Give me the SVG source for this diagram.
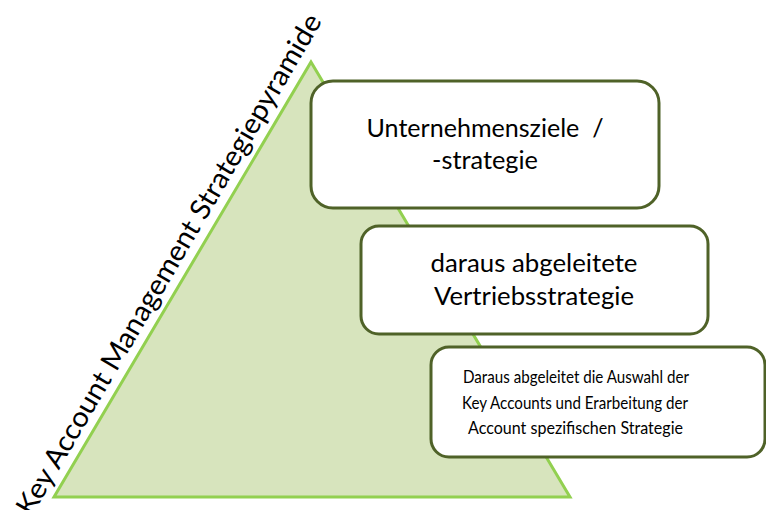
<svg xmlns="http://www.w3.org/2000/svg" width="766" height="510" viewBox="0 0 766 510">
  <style>
    .pyr { fill: #D7E4BD; stroke: #92D050; stroke-width: 3; stroke-linejoin: miter; }
    .box { fill: #FFFFFF; stroke: #4F6228; stroke-width: 3; }
    .big { font-family: Lato, "Open Sans", "Liberation Sans", sans-serif; font-size: 25px; fill: #000000; text-anchor: middle; white-space: pre; }
    .small { font-family: Lato, "Open Sans", "Liberation Sans", sans-serif; font-size: 17.5px; fill: #000000; text-anchor: middle; }
    .title { font-family: Lato, "Open Sans", "Liberation Sans", sans-serif; font-size: 28px; fill: #000000; text-anchor: middle; }
  </style>

  <!-- pyramid with its title along the left flank -->
  <g id="pyramid">
    <polygon class="pyr" points="311,62 570,497 54,497"/>
    <text class="title" transform="translate(177,269) rotate(-59.6)" x="0" y="0" textLength="575" lengthAdjust="spacingAndGlyphs">Key Account Management Strategiepyramide</text>
  </g>

  <!-- level 1 -->
  <g id="unternehmensziele">
    <rect class="box" x="311" y="81" width="348" height="127" rx="22" ry="22"/>
    <text class="big" x="485" y="137" textLength="237" lengthAdjust="spacingAndGlyphs">Unternehmensziele  /</text>
    <text class="big" x="485" y="169" textLength="106" lengthAdjust="spacingAndGlyphs">-strategie</text>
  </g>

  <!-- level 2 -->
  <g id="vertriebsstrategie">
    <rect class="box" x="361" y="226" width="347" height="108" rx="18" ry="18"/>
    <text class="big" x="534" y="272" textLength="207" lengthAdjust="spacingAndGlyphs">daraus abgeleitete</text>
    <text class="big" x="534" y="305" textLength="200" lengthAdjust="spacingAndGlyphs">Vertriebsstrategie</text>
  </g>

  <!-- level 3 -->
  <g id="key-accounts">
    <rect class="box" x="431" y="347" width="334" height="110" rx="18" ry="18"/>
    <text class="small" x="576" y="383" textLength="226" lengthAdjust="spacingAndGlyphs">Daraus abgeleitet die Auswahl der</text>
    <text class="small" x="575" y="409" textLength="226" lengthAdjust="spacingAndGlyphs">Key Accounts und Erarbeitung der</text>
    <text class="small" x="575.5" y="434" textLength="215" lengthAdjust="spacingAndGlyphs">Account spezifischen Strategie</text>
  </g>

  <g id="connectors"/>
</svg>
